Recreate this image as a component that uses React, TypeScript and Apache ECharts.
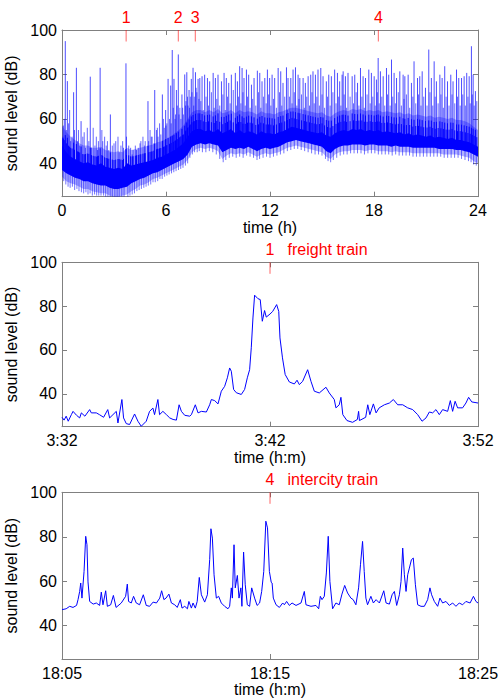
import React, { useEffect, useRef } from 'react';
import * as echarts from 'echarts';

const FONT = '"Liberation Sans", Arial, Helvetica, sans-serif';

// ---------- Top panel: 24 h record ----------
const BAND_STEP_H = 0.25; // hours between band samples
// lowest light-blue edge of the dense band (dB)
const bandFloor = [
  34, 32, 31, 30.5, 29.5, 28.5, 28.5, 27.5,
  27, 26.5, 26.5, 25.5, 25, 25, 25.5, 26,
  27.5, 28.5, 30, 30.5, 31.5, 33, 33.5, 34.5,
  35.5, 36.5, 37.5, 38.5, 39.5, 41.5, 45, 46.5,
  47, 46.5, 47, 46.5, 45.5, 42, 43.5, 44.5,
  44, 44.5, 44, 45, 44, 43, 44, 44.5,
  44, 44.5, 45, 46, 47, 47.5, 48, 47.5,
  47, 46.5, 46, 45.5, 45, 43, 42, 44,
  45, 45.5, 45.5, 46, 46, 46, 45.5, 46,
  46, 45.5, 45.5, 45.5, 45, 45.5, 45, 45,
  45, 44.5, 44.5, 44.5, 44.5, 44.5, 44.5, 44.5,
  44, 44, 44, 44, 43.5, 43, 42.5, 41,
  40,
];
// bottom of the solid core
const bandCoreLow = [
  37, 35.5, 34.5, 33.5, 33, 32, 32, 31,
  30.5, 30, 30, 29, 28.5, 28.5, 29, 29.5,
  31, 32, 33, 33.5, 34.5, 35.5, 36, 37,
  38, 39, 40, 41, 42, 44, 47.5, 48.5,
  49, 48.5, 49, 48.5, 48, 45, 46, 47,
  46.5, 47, 46.5, 47.5, 46.5, 45.5, 46.5, 47,
  46.5, 47, 47.5, 48.5, 49.5, 50, 50.5, 50,
  49.5, 49, 48.5, 48, 47.5, 45.5, 44.5, 46.5,
  47.5, 48, 48, 48.5, 48.5, 48.5, 48, 48.5,
  48.5, 48, 48, 48, 47.5, 48, 47.5, 47.5,
  47.5, 47, 47, 47, 47, 47, 47, 46.5,
  46.5, 46.5, 46.5, 46, 46, 45.5, 45, 44,
  43,
];
// top of the solid core
const bandCoreTop = [
  48, 45, 43, 42, 41, 40, 40.5, 39.5,
  39, 40, 38.5, 38, 37.5, 38, 37.5, 40,
  39, 39.5, 40, 40.5, 41, 41.5, 42.5, 43,
  44, 45, 46, 47.5, 49, 52, 54.5, 55.5,
  55.5, 54.5, 55, 54, 55.5, 53.5, 54.5, 55.5,
  53.5, 55, 53.5, 54.5, 54, 53, 54.5, 53.5,
  53.5, 53, 54, 54.5, 55.5, 56.5, 56, 55.5,
  55, 54.5, 54, 53.5, 54, 52.5, 52, 53.5,
  54.5, 55, 54.5, 55.5, 55, 55.5, 54.5, 55,
  54.5, 55, 54, 54.5, 54, 53.5, 54, 53,
  53.5, 52.5, 53, 52.5, 52, 52.5, 51.5, 52,
  51.5, 51, 51.5, 50.5, 50.5, 50, 49.5, 48.5,
  47.5,
];
// top of the light haze above the core
const bandHaze = [
  57, 54, 52, 50.5, 49, 48, 48, 47,
  47, 47.5, 46, 45.5, 45, 45.5, 45, 47,
  46, 46.5, 47, 47.5, 48, 48.5, 49.5, 50,
  51, 52, 53.5, 55, 57, 60, 63, 64,
  64, 63, 64, 63, 64.5, 62.5, 63, 64,
  62.5, 64, 63, 63.5, 63, 62, 63.5, 62.5,
  62.5, 62, 63, 63.5, 64.5, 65, 65, 64.5,
  64, 63.5, 63, 62.5, 63, 61.5, 61, 62.5,
  63.5, 64, 63.5, 64.5, 64, 64.5, 63.5, 64,
  63.5, 64, 63, 63.5, 63, 62.5, 63, 62,
  62.5, 61.5, 62, 61.5, 61, 61.5, 60.5, 61,
  60.5, 60, 60.5, 59.5, 59.5, 59, 58, 56.5,
  55,
];
// tall pass-by peaks [hour, dB]
const tallPeaks: [number, number][] = [
  [0.19, 95], [0.31, 77], [0.67, 72], [0.83, 83], [1.1, 59], [1.63, 79], [2.2, 83], [2.79, 62],
  [3.69, 85], [4.96, 68], [5.35, 73], [5.79, 71], [5.98, 64], [6.12, 78], [6.27, 75], [6.36, 91],
  [6.46, 78], [6.6, 73], [6.71, 89], [6.92, 71], [7.08, 80], [7.2, 81], [7.33, 73], [7.46, 78],
  [7.56, 83], [7.7, 81], [7.85, 78],
  [7.95, 78.4], [8.08, 79.2], [8.23, 79.9], [8.39, 78.4], [8.52, 76.9], [8.72, 80.7], [8.85, 78.4],
  [9.0, 79.9], [9.2, 76.9], [9.35, 80.7], [9.48, 78.4], [9.62, 76.2], [9.77, 79.9], [10.0, 80.7],
  [10.12, 76.9], [10.25, 83.7], [10.39, 82.9], [10.5, 78.4], [10.64, 82.2], [10.77, 79.9],
  [10.93, 75.4], [11.08, 78.4], [11.27, 81.7], [11.41, 80.7], [11.54, 76.9], [11.7, 78.4],
  [11.85, 82.2], [11.98, 78.4], [12.12, 79.9], [12.27, 78.4], [12.47, 82.9], [12.62, 81.4],
  [12.75, 76.2], [12.95, 83.2], [13.04, 78.4], [13.2, 78.4], [13.33, 82.2], [13.47, 83.2],
  [13.62, 79.9], [13.72, 78.4], [13.91, 78.4], [14.04, 76.2], [14.2, 79.2], [14.35, 79.9],
  [14.48, 81.4], [14.62, 79.9], [14.77, 82.2], [14.93, 82.9], [15.06, 79.2], [15.25, 76.9],
  [15.39, 79.9], [15.54, 79.2], [15.73, 82.2], [15.89, 80.7], [16.02, 76.9], [16.16, 79.9],
  [16.22, 81.4], [16.35, 79.2], [16.5, 80.7], [16.74, 79.2], [16.89, 79.9], [17.05, 76.2],
  [17.22, 82.9], [17.37, 79.2], [17.51, 78.4], [17.7, 82.2], [17.85, 80.7], [18.01, 79.2],
  [18.14, 77.7], [18.24, 87.4], [18.37, 81.4], [18.53, 79.2], [18.72, 82.9], [18.85, 79.9],
  [19.01, 86.7], [19.16, 80.7], [19.3, 78.4], [19.49, 81.4], [19.68, 79.9], [19.78, 79.2],
  [19.97, 79.9], [20.16, 76.2], [20.31, 85.9], [20.51, 78.4], [20.64, 79.2], [20.78, 81.4],
  [20.97, 74], [21.16, 91.2], [21.31, 78.4], [21.47, 85.9], [21.6, 76.9], [21.8, 79.9],
  [21.93, 78.4], [22.08, 83.7], [22.24, 76.9], [22.43, 79.9], [22.56, 76.9], [22.76, 82.2],
  [22.89, 78.4], [23.05, 78.4], [23.2, 79.2], [23.35, 80.7], [23.49, 79.2], [23.62, 92.7],
  [23.72, 79.9], [23.85, 72.5],
];
// smaller peaks between them [hour, dB]
const smallPeaks: [number, number][] = [
  [0.05, 52], [0.08, 57], [0.13, 60], [0.25, 55], [0.38, 58], [0.44, 64], [0.5, 50], [0.58, 52],
  [0.72, 55], [0.9, 50], [0.95, 55], [1.02, 48], [1.2, 52], [1.28, 54], [1.35, 47], [1.46, 56],
  [1.55, 50], [1.7, 47], [1.8, 56], [1.9, 48], [1.98, 52], [2.05, 46], [2.1, 50], [2.3, 55],
  [2.35, 50], [2.46, 52], [2.55, 48], [2.62, 50], [2.7, 46], [2.9, 48], [3.0, 49], [3.1, 50],
  [3.23, 52], [3.3, 45], [3.4, 48], [3.5, 50], [3.55, 47], [3.72, 52], [3.85, 48], [3.96, 47],
  [4.05, 44], [4.1, 46], [4.23, 48], [4.3, 46], [4.4, 47], [4.5, 49], [4.55, 50], [4.67, 52],
  [4.75, 48], [4.8, 50], [5.0, 50], [5.08, 55], [5.15, 52], [5.2, 52], [5.3, 49], [5.45, 55],
  [5.5, 56], [5.54, 52], [5.63, 58], [5.7, 53], [5.85, 60], [5.9, 56], [6.0, 57], [6.05, 58],
  [6.2, 60], [6.3, 58], [6.42, 65], [6.52, 60], [6.55, 62], [6.65, 66], [6.75, 62], [6.8, 65],
  [6.86, 60], [6.96, 65], [7.0, 62], [7.12, 66], [7.15, 68], [7.24, 70], [7.27, 66], [7.36, 65],
  [7.4, 70], [7.5, 72], [7.6, 66], [7.63, 70], [7.74, 74], [7.78, 72], [7.9, 69],
  [8.01, 68], [8.15, 64], [8.31, 70], [8.45, 66], [8.62, 72], [8.78, 65], [8.93, 69], [9.1, 66],
  [9.28, 71], [9.42, 64], [9.55, 70], [9.7, 67], [9.88, 73], [10.06, 66], [10.18, 70], [10.32, 67],
  [10.44, 72], [10.57, 66], [10.7, 70], [10.85, 65], [11.0, 69], [11.18, 66], [11.34, 72],
  [11.47, 65], [11.62, 70], [11.78, 67], [11.92, 71], [12.05, 66], [12.2, 69], [12.37, 65],
  [12.55, 72], [12.68, 66], [12.85, 70], [13.0, 64], [13.12, 70], [13.27, 67], [13.4, 72],
  [13.55, 66], [13.67, 69], [13.82, 71], [13.98, 65], [14.12, 70], [14.28, 66], [14.42, 72],
  [14.55, 67], [14.7, 70], [14.85, 66], [15.0, 71], [15.15, 65], [15.32, 70], [15.47, 66],
  [15.63, 72], [15.81, 67], [15.96, 70], [16.09, 66], [16.28, 71], [16.42, 65], [16.62, 70],
  [16.82, 67], [16.97, 72], [17.13, 66], [17.3, 70], [17.44, 65], [17.6, 71], [17.78, 67],
  [17.93, 70], [18.07, 66], [18.19, 72], [18.3, 67], [18.45, 70], [18.62, 66], [18.78, 71],
  [18.93, 66], [19.08, 70], [19.23, 67], [19.4, 72], [19.58, 66], [19.73, 69], [19.87, 71],
  [20.06, 65], [20.24, 70], [20.41, 67], [20.57, 71], [20.71, 66], [20.87, 70], [21.06, 66],
  [21.23, 72], [21.39, 66], [21.53, 70], [21.7, 67], [21.86, 71], [22.0, 65], [22.16, 70],
  [22.33, 66], [22.5, 71], [22.66, 67], [22.82, 70], [22.97, 66], [23.12, 71], [23.27, 66],
  [23.42, 70], [23.55, 67], [23.67, 71], [23.78, 66], [23.93, 68],
];
// short downward excursions below the core [hour, dB]
const lowDips: [number, number][] = [
  [0.1, 32], [0.22, 30.5], [0.35, 29.5], [0.47, 29], [0.6, 29.5], [0.73, 28], [0.86, 28.5], [0.98, 27.5],
  [1.12, 27], [1.25, 26.5], [1.38, 27], [1.5, 26], [1.62, 26.5], [1.75, 25.5], [1.88, 26], [2.0, 25.5],
  [2.12, 25.5], [2.25, 25.5], [2.4, 25.5], [2.52, 25], [2.65, 25], [2.78, 25], [2.9, 25], [3.05, 25],
  [3.18, 25], [3.3, 25], [3.45, 25], [3.58, 25], [3.8, 25], [3.92, 25.5], [4.05, 26], [4.18, 26.5],
  [4.32, 27.5], [4.45, 28], [4.58, 28.5], [4.72, 29], [4.85, 29.5], [4.98, 30], [5.12, 30.5],
  [5.25, 31.5], [5.38, 31.5], [5.52, 32], [5.65, 33], [5.78, 33], [5.92, 34], [6.05, 34.5],
  [6.18, 35], [6.32, 35.5], [6.45, 36], [6.58, 36.5], [6.72, 37], [6.85, 37.5], [6.98, 38],
  [7.12, 39], [7.25, 40], [7.38, 42.5], [7.52, 44], [7.65, 45], [7.8, 45], [7.92, 45.5],
  [8.1, 45], [8.3, 45], [8.5, 45.5], [8.7, 45], [8.9, 44], [9.1, 42], [9.3, 40.5], [9.45, 41.5],
  [9.65, 42.5], [9.85, 43], [10.05, 42.5], [10.25, 43], [10.45, 42.5], [10.65, 43.5], [10.85, 43],
  [11.05, 42.5], [11.25, 41.5], [11.4, 42], [11.6, 42.5], [11.8, 43], [12.0, 42.5], [12.2, 43],
  [12.4, 43.5], [12.6, 44], [12.8, 44.5], [13.0, 45.5], [13.2, 46], [13.4, 46.5], [13.6, 46.5],
  [13.8, 46], [14.0, 45.5], [14.2, 45], [14.4, 44.5], [14.6, 44], [14.8, 44], [15.0, 43.5],
  [15.2, 42], [15.35, 41], [15.5, 40.5], [15.65, 41.5], [15.85, 42.5], [16.05, 43.5], [16.25, 44],
  [16.45, 44], [16.65, 44.5], [16.85, 44.5], [17.05, 44.5], [17.25, 44.5], [17.45, 44], [17.65, 44.5],
  [17.85, 44.5], [18.05, 44.5], [18.25, 44], [18.45, 44], [18.65, 44], [18.85, 44], [19.05, 43.5],
  [19.25, 44], [19.45, 43.5], [19.65, 43.5], [19.85, 43.5], [20.05, 43.5], [20.25, 43], [20.45, 43],
  [20.65, 43], [20.85, 43], [21.05, 43], [21.25, 43], [21.45, 43], [21.65, 43], [21.85, 43],
  [22.05, 42.5], [22.25, 42.5], [22.45, 42.5], [22.65, 42.5], [22.85, 42.5], [23.05, 42], [23.25, 41.5],
  [23.45, 41], [23.6, 40.5], [23.75, 39.5], [23.9, 39],
];
const dayMarkerHours = [3.7, 6.71, 7.69, 18.25];
const dayMarkerLabels = ['1', '2', '3', '4'];

// ---------- Middle panel: freight train, minutes after 3:32 ----------
const freightTickLabels = ['3:32', '3:42', '3:52'];
const freightTrace: [number, number][] = [
  [0, 29.3], [0.1, 28], [0.2, 29.8], [0.3, 27.5], [0.45, 30.5], [0.53, 32], [0.7, 30.2], [0.85, 29],
  [0.93, 31.3], [1.1, 29.8], [1.33, 32.8], [1.41, 31.3], [1.65, 31.3], [1.8, 30.5], [2.0, 29.3],
  [2.2, 32.8], [2.29, 29], [2.45, 30.5], [2.61, 32], [2.69, 26.7], [2.88, 37.4], [2.96, 29],
  [3.09, 26.4], [3.25, 26], [3.49, 30.8], [3.65, 27.5], [3.81, 25.2], [4.05, 27.5], [4.21, 32],
  [4.37, 33.5], [4.45, 30.5], [4.61, 37.4], [4.69, 30.5], [4.85, 32], [5.02, 30.5], [5.18, 29],
  [5.34, 28.3], [5.5, 28], [5.63, 35], [5.74, 32], [5.9, 30.2], [6.14, 29.8], [6.22, 30.5],
  [6.41, 35], [6.54, 31.3], [6.7, 32], [6.94, 31.7], [7.1, 35], [7.18, 37.4], [7.34, 36.9],
  [7.5, 35.4], [7.66, 41.2], [7.82, 43.4], [7.95, 47.3], [8.06, 51.8], [8.14, 50.3], [8.25, 42],
  [8.38, 40.5], [8.62, 39.7], [8.78, 42], [8.91, 47.3], [9.02, 51], [9.1, 61], [9.18, 74.6],
  [9.26, 85], [9.42, 83.4], [9.53, 83], [9.63, 73.1], [9.74, 78], [9.82, 75], [10.0, 76.4],
  [10.13, 77.6], [10.32, 80.7], [10.42, 77.6], [10.48, 65.5], [10.6, 56.4], [10.73, 48.8],
  [10.93, 45.4], [11.17, 44.5], [11.3, 46.2], [11.41, 44.2], [11.57, 45.7], [11.81, 51],
  [11.97, 45.7], [12.13, 41.2], [12.37, 40.4], [12.69, 43], [12.85, 40.4], [13.09, 37.4],
  [13.17, 33.6], [13.33, 35], [13.41, 38.4], [13.5, 30.5], [13.7, 27.8], [13.97, 27], [14.2, 28.3],
  [14.26, 32], [14.3, 27.8], [14.6, 29.3], [14.7, 35], [14.8, 30.5], [14.97, 35.4], [15.1, 31.3],
  [15.25, 33.6], [15.5, 35], [15.74, 35.8], [15.93, 37.4], [16.14, 35], [16.38, 35], [16.62, 33.6],
  [16.86, 32.8], [17.1, 30.5], [17.31, 27.5], [17.5, 29], [17.66, 31.7], [17.82, 31.3],
  [17.98, 32.8], [18.14, 30.5], [18.3, 32.8], [18.54, 32], [18.67, 36.9], [18.78, 32], [18.9, 36.6],
  [19.02, 33.6], [19.26, 33.6], [19.42, 35.8], [19.55, 38.4], [19.7, 36.3], [20, 35.8],
];

// ---------- Bottom panel: intercity train, minutes after 18:05 ----------
const intercityTickLabels = ['18:05', '18:15', '18:25'];
const intercityTrace: [number, number][] = [
  [0, 47.2], [0.2, 47.6], [0.37, 48.7], [0.53, 48.2], [0.7, 49.1], [0.77, 51.7], [0.85, 55.4],
  [0.9, 59.2], [0.96, 52.4], [1.06, 64.4], [1.14, 80.2], [1.2, 76.4], [1.25, 59.7], [1.33, 50.9],
  [1.5, 49.7], [1.65, 50.2], [1.81, 49.1], [1.89, 55.1], [1.97, 49.4], [2.1, 55.7], [2.18, 48.7],
  [2.34, 49.4], [2.47, 53.6], [2.6, 48.2], [2.85, 50.2], [3.06, 53.2], [3.14, 58.7], [3.2, 50.9],
  [3.33, 50.2], [3.44, 53.2], [3.57, 50.2], [3.73, 49.4], [3.91, 53.9], [4.05, 49.1], [4.21, 48.7],
  [4.38, 50.6], [4.54, 50.2], [4.7, 52.4], [4.79, 55.7], [4.9, 51.7], [5.0, 52.4], [5.14, 54.2],
  [5.26, 50.2], [5.42, 49.4], [5.54, 48.2], [5.69, 51.7], [5.77, 47.9], [5.9, 48.7], [6.03, 47.6],
  [6.1, 50.9], [6.22, 47.9], [6.3, 50.2], [6.41, 47.9], [6.5, 50.9], [6.6, 61.7], [6.7, 53.9],
  [6.86, 50.6], [6.99, 53.9], [7.1, 69.7], [7.16, 83.6], [7.23, 79.4], [7.31, 62.9], [7.42, 52.4],
  [7.53, 53.2], [7.66, 50.2], [7.82, 48.7], [7.98, 47.6], [8.06, 48.7], [8.14, 57], [8.19, 52.4],
  [8.27, 76.4], [8.33, 57], [8.43, 62.6], [8.51, 52.4], [8.6, 57], [8.65, 48.7], [8.73, 73.1],
  [8.81, 58.4], [8.91, 49.4], [9.02, 48.7], [9.12, 57], [9.26, 52.4], [9.38, 49.1], [9.5, 50.2],
  [9.6, 55.4], [9.7, 64.4], [9.8, 87], [9.88, 84], [9.97, 64.4], [10.06, 59.5], [10.1, 59.2],
  [10.16, 52.4], [10.29, 49.4], [10.45, 48.2], [10.61, 50.2], [10.69, 49.4], [10.8, 50.9],
  [10.93, 49.1], [11.06, 50.2], [11.25, 49.1], [11.49, 50.2], [11.65, 55.4], [11.73, 49.4],
  [11.97, 48.7], [12.21, 49.1], [12.34, 47.6], [12.42, 53.2], [12.5, 51.7], [12.61, 53.2],
  [12.71, 63.7], [12.8, 80.2], [12.88, 59.9], [13.01, 47.6], [13.17, 50.2], [13.33, 49.4],
  [13.46, 54.2], [13.59, 58.1], [13.73, 54.7], [13.89, 52.4], [14.0, 51.7], [14.13, 49.4],
  [14.26, 57], [14.35, 67.4], [14.45, 77.9], [14.53, 64.4], [14.61, 52.4], [14.69, 49.4],
  [14.85, 53.2], [14.97, 50.2], [15.1, 51.7], [15.26, 50.2], [15.47, 55.7], [15.58, 50.2],
  [15.74, 49.7], [15.87, 53.9], [15.98, 55.4], [16.09, 49.1], [16.22, 53.9], [16.3, 59.9],
  [16.38, 74.9], [16.46, 62.9], [16.54, 55.4], [16.62, 62.9], [16.7, 65.9], [16.8, 69.7],
  [16.89, 70.4], [16.99, 58.4], [17.1, 49.4], [17.26, 48.7], [17.42, 48.7], [17.58, 51.7],
  [17.69, 57], [17.77, 53.9], [17.9, 50.9], [18.06, 48.7], [18.17, 52.4], [18.3, 50.2],
  [18.46, 50.9], [18.62, 49.1], [18.78, 50.2], [18.94, 48.7], [19.1, 50.2], [19.26, 49.4],
  [19.42, 50.9], [19.62, 50.2], [19.78, 53.2], [19.9, 50.9], [20, 50.2],
];

const dbTicks = [40, 60, 80, 100];
const DB_MIN = 25;
const DB_MAX = 100;

const LINE_GRAY = '#808080';
const BLUE = '#0000ff';

function bandAt(arr: number[], h: number): number {
  const f = h / BAND_STEP_H;
  const i = Math.max(0, Math.min(arr.length - 2, Math.floor(f)));
  const t = f - i;
  return arr[i] * (1 - t) + arr[i + 1] * t;
}

function xAxisPair(g: number, min: number, max: number, interval: number, name: string, fmt?: (v: number) => string) {
  const common = {
    type: 'value', gridIndex: g, min, max, interval,
    axisLine: { show: true, onZero: false, lineStyle: { color: LINE_GRAY, width: 1 } },
    axisTick: { show: true, inside: true, length: 5, lineStyle: { color: LINE_GRAY, width: 1 } },
    splitLine: { show: false },
  };
  return [
    {
      ...common, position: 'bottom', name, nameLocation: 'middle', nameGap: 22,
      nameTextStyle: { color: '#000', fontSize: 16, fontFamily: FONT },
      axisLabel: { show: true, color: '#000', fontSize: 16, fontFamily: FONT, margin: 6, formatter: fmt },
    },
    { ...common, position: 'top', axisLabel: { show: false } },
  ];
}

function yAxisPair(g: number) {
  const common = {
    type: 'value', gridIndex: g, min: DB_MIN, max: DB_MAX,
    axisLine: { show: true, onZero: false, lineStyle: { color: LINE_GRAY, width: 1 } },
    axisTick: { show: true, inside: true, length: 5, customValues: dbTicks, lineStyle: { color: LINE_GRAY, width: 1 } },
    splitLine: { show: false },
  };
  return [
    {
      ...common, position: 'left', name: 'sound level (dB)', nameLocation: 'middle', nameGap: 36, nameRotate: 90,
      nameTextStyle: { color: '#000', fontSize: 16, fontFamily: FONT },
      axisLabel: { show: true, color: '#000', fontSize: 16, fontFamily: FONT, margin: 5, customValues: dbTicks },
    },
    { ...common, position: 'right', axisLabel: { show: false, customValues: dbTicks } },
  ];
}

function bandSeries(low: number[], high: number[], fill: string, z: number) {
  return {
    type: 'custom', xAxisIndex: 0, yAxisIndex: 0, z, silent: true,
    data: [[0, 50]],
    renderItem: (_p: any, api: any) => {
      const pts: number[][] = [];
      for (let i = 0; i < high.length; i++) pts.push(api.coord([i * BAND_STEP_H, high[i]]));
      for (let i = low.length - 1; i >= 0; i--) pts.push(api.coord([i * BAND_STEP_H, low[i]]));
      return { type: 'polygon', shape: { points: pts }, style: { fill } };
    },
  };
}

// vertical hair from inside the core to the value; capAbove limits a dark copy to a few dB above the core
function hairSeries(peaks: [number, number][], stroke: string, z: number, capAbove?: number) {
  return {
    type: 'custom', xAxisIndex: 0, yAxisIndex: 0, z, silent: true,
    data: peaks,
    renderItem: (_p: any, api: any) => {
      const h = api.value(0);
      let v = api.value(1);
      if (capAbove !== undefined) v = Math.min(v, bandAt(bandCoreTop, h) + capAbove);
      const a = api.coord([h, bandAt(bandCoreLow, h) + 1]);
      const b = api.coord([h, v]);
      return { type: 'line', shape: { x1: a[0], y1: a[1], x2: b[0], y2: b[1] }, style: { stroke, lineWidth: 1 } };
    },
  };
}

function markerSeries(axis: number, xs: number[], labels: string[], captions?: string[]) {
  return {
    type: 'custom', xAxisIndex: axis, yAxisIndex: axis, z: 10, silent: true, clip: false,
    data: xs.map((x) => [x, DB_MAX]),
    renderItem: (params: any, api: any) => {
      const i = params.dataIndex;
      const p = api.coord([api.value(0), api.value(1)]);
      const textBase = { fill: '#ff0000', font: `16px ${FONT}`, verticalAlign: 'middle', textVerticalAlign: 'middle' };
      const children: any[] = [
        { type: 'line', shape: { x1: p[0], y1: p[1], x2: p[0], y2: p[1] + 11.5 }, style: { stroke: 'rgba(255,0,0,0.6)', lineWidth: 1 } },
        { type: 'text', style: { ...textBase, text: labels[i], x: p[0], y: p[1] - 13, align: 'center', textAlign: 'center' } },
      ];
      if (captions) {
        children.push({ type: 'text', style: { ...textBase, text: captions[i], x: p[0] + 17.5, y: p[1] - 13, align: 'left', textAlign: 'left' } });
      }
      return { type: 'group', children };
    },
  };
}

function buildOption() {
  return {
    animation: false,
    backgroundColor: '#ffffff',
    textStyle: { fontFamily: FONT },
    grid: [
      { left: 62, top: 30, width: 416, height: 166.7, outerBoundsMode: 'none', containLabel: false },
      { left: 62, top: 262.3, width: 416, height: 164.4, outerBoundsMode: 'none', containLabel: false },
      { left: 62, top: 492.3, width: 416, height: 166.7, outerBoundsMode: 'none', containLabel: false },
    ],
    xAxis: [
      ...xAxisPair(0, 0, 24, 6, 'time (h)'),
      ...xAxisPair(1, 0, 20, 10, 'time (h:m)', (v: number) => freightTickLabels[Math.round(v / 10)] ?? ''),
      ...xAxisPair(2, 0, 20, 10, 'time (h:m)', (v: number) => intercityTickLabels[Math.round(v / 10)] ?? ''),
    ],
    yAxis: [...yAxisPair(0), ...yAxisPair(1), ...yAxisPair(2)],
    series: [
      bandSeries(bandFloor, bandHaze, 'rgba(0,0,255,0.3)', 1),
      hairSeries(lowDips, 'rgba(0,0,255,0.55)', 2),
      hairSeries(smallPeaks, 'rgba(0,0,255,0.6)', 2),
      hairSeries(tallPeaks, 'rgba(0,0,255,0.7)', 2),
      bandSeries(bandCoreLow, bandCoreTop, BLUE, 3),
      hairSeries(smallPeaks, BLUE, 4, 4),
      hairSeries(tallPeaks, BLUE, 4, 7),
      markerSeries(0, dayMarkerHours, dayMarkerLabels),
      {
        type: 'line', xAxisIndex: 2, yAxisIndex: 2, data: freightTrace, showSymbol: false, symbol: 'none',
        lineStyle: { color: BLUE, width: 1 }, silent: true,
      },
      markerSeries(2, [10], ['1'], ['freight train']),
      {
        type: 'line', xAxisIndex: 4, yAxisIndex: 4, data: intercityTrace, showSymbol: false, symbol: 'none',
        lineStyle: { color: BLUE, width: 1 }, silent: true,
      },
      markerSeries(4, [10], ['4'], ['intercity train']),
    ],
  };
}

export default function App() {
  const ref = useRef<HTMLDivElement>(null);
  useEffect(() => {
    document.body.style.margin = '0';
    const chart = echarts.init(ref.current!, null, { renderer: 'svg' });
    chart.setOption(buildOption() as any);
    return () => chart.dispose();
  }, []);
  return <div ref={ref} style={{ position: 'absolute', left: 0, top: 0, width: 500, height: 699, background: '#fff' }} />;
}
